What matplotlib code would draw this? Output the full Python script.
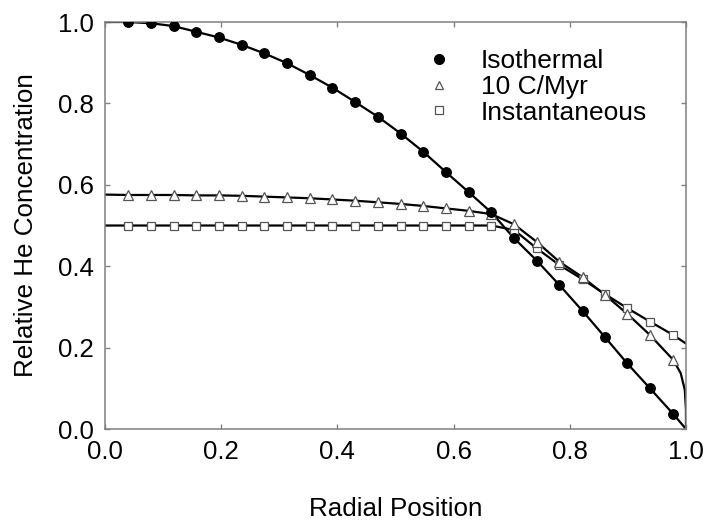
import matplotlib
matplotlib.use("Agg")
import matplotlib.pyplot as plt
from matplotlib.lines import Line2D

plt.rcParams['font.family'] = ['Liberation Sans', 'DejaVu Sans']

# radial positions of the plotted symbols
r_pts = [0.040, 0.079, 0.118, 0.157, 0.196, 0.235, 0.274, 0.313, 0.352,
         0.391, 0.430, 0.470, 0.509, 0.548, 0.587, 0.626, 0.665, 0.704,
         0.743, 0.782, 0.822, 0.861, 0.899, 0.938, 0.978]

iso_pts = [1.000, 0.997, 0.990, 0.976, 0.962, 0.944, 0.923, 0.899, 0.870,
           0.839, 0.804, 0.767, 0.726, 0.681, 0.631, 0.582, 0.532, 0.469,
           0.414, 0.354, 0.290, 0.225, 0.161, 0.100, 0.037]

cool_pts = [0.575, 0.575, 0.575, 0.574, 0.574, 0.573, 0.571, 0.569, 0.567,
            0.564, 0.561, 0.557, 0.553, 0.548, 0.542, 0.536, 0.528, 0.503,
            0.460, 0.411, 0.373, 0.329, 0.283, 0.231, 0.170]

inst_pts = [0.500, 0.500, 0.500, 0.500, 0.500, 0.500, 0.500, 0.500, 0.500,
            0.500, 0.500, 0.500, 0.500, 0.500, 0.500, 0.500, 0.500, 0.489,
            0.444, 0.403, 0.368, 0.331, 0.297, 0.264, 0.231]

# extra points of the model curves at the edges
iso_start, iso_end = [0.0], [1.0]
iso_start_y, iso_end_y = [1.0], [0.0]
cool_start, cool_end = [0.0], [0.991, 0.998, 1.0, 1.0]
cool_start_y, cool_end_y = [0.576], [0.137, 0.096, 0.047, 0.0]
inst_start, inst_end = [0.0], [1.0]
inst_start_y, inst_end_y = [0.500], [0.210]

labels = ['Isothermal', '10 C/Myr', 'Instantaneous']

fig = plt.figure(figsize=(7.05, 5.32), dpi=100)
ax = fig.add_axes([0.149, 0.1936, 0.824, 0.765])

edge = '#555555'
lw = 1.6

ax.plot(iso_start + r_pts + iso_end, iso_start_y + iso_pts + iso_end_y,
        color='black', lw=lw, zorder=2)
ax.plot(cool_start + r_pts + cool_end, cool_start_y + cool_pts + cool_end_y,
        color='black', lw=lw, zorder=2)
ax.plot(inst_start + r_pts + inst_end, inst_start_y + inst_pts + inst_end_y,
        color='black', lw=lw, zorder=2)

ax.plot(r_pts, inst_pts, 's', ms=6, mfc='white', mec=edge, mew=0.9, zorder=3)
ax.plot(r_pts, cool_pts, '^', ms=7, mfc='white', mec=edge, mew=0.9, zorder=4)
ax.plot(r_pts, iso_pts, 'o', ms=6.8, mfc='black', mec='black', zorder=5)

ax.set_xlim(0, 1)
ax.set_ylim(0, 1)
ax.set_xticks([0.0, 0.2, 0.4, 0.6, 0.8, 1.0])
ax.set_yticks([0.0, 0.2, 0.4, 0.6, 0.8, 1.0])
ax.set_xticklabels(['0.0', '0.2', '0.4', '0.6', '0.8', '1.0'])
ax.set_yticklabels(['0.0', '0.2', '0.4', '0.6', '0.8', '1.0'])

for s in ax.spines.values():
    s.set_color('#808080')
    s.set_linewidth(1.1)
ax.tick_params(direction='in', top=True, right=True, length=3.5, width=1,
               color='#808080', labelsize=18.6, pad=8)

ax.set_xlabel('Radial Position', fontsize=18.7, labelpad=24)
ax.set_ylabel('Relative He Concentration', fontsize=18.7, labelpad=14)

handles = [
    Line2D([], [], ls='none', marker='o', ms=7, mfc='black', mec='black'),
    Line2D([], [], ls='none', marker='^', ms=6, mfc='white', mec=edge, mew=0.9),
    Line2D([], [], ls='none', marker='s', ms=5.5, mfc='white', mec=edge, mew=0.9),
]
ax.legend(handles, labels, loc='upper left', bbox_to_anchor=(0.529, 0.965),
          frameon=False, fontsize=19, handlelength=1.0, handletextpad=1.09,
          labelspacing=0.06, borderpad=0)

fig.savefig('out.png', dpi=100)
